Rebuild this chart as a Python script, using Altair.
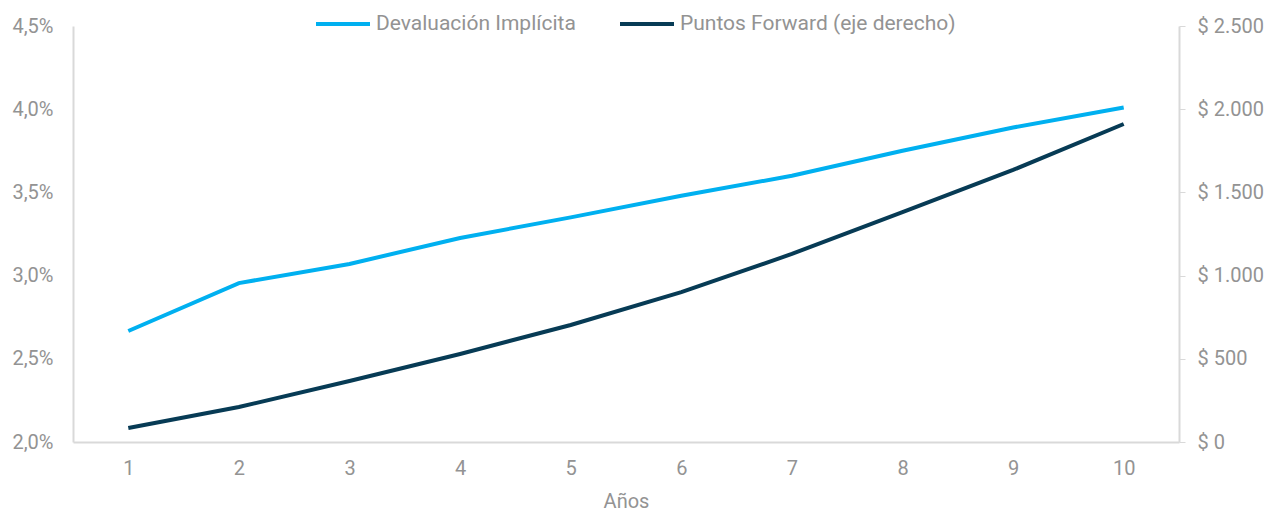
import altair as alt
import pandas as pd

years = [1, 2, 3, 4, 5, 6, 7, 8, 9, 10]
devaluacion = [2.667, 2.955, 3.07, 3.226, 3.35, 3.48, 3.60, 3.75, 3.89, 4.01]
puntos = [84, 210, 367, 529, 703, 901, 1130, 1382, 1635, 1911]

name_a = "Devaluación Implícita"
name_b = "Puntos Forward (eje derecho)"

df_a = pd.DataFrame({"year": years, "value": devaluacion, "serie": name_a})
df_b = pd.DataFrame({"year": years, "value": puntos, "serie": name_b})

FONT = "Roboto"
GRAY = "#939393"
AXIS = "#d9d9d9"
FS = 20

color = alt.Color(
    "serie:N",
    scale=alt.Scale(domain=[name_a, name_b], range=["#00B0F0", "#073B55"]),
    legend=alt.Legend(
        title=None, orient="none", direction="horizontal",
        legendX=241, legendY=-31,
        symbolType="stroke", symbolSize=2916, symbolStrokeWidth=4,
        labelFont=FONT, labelFontSize=21, labelColor=GRAY, labelLimit=500,
        labelOffset=4, columnPadding=36, symbolOffset=0,
    ),
)

x = alt.X(
    "year:O", title="Años",
    scale=alt.Scale(paddingInner=0, paddingOuter=0.5),
    axis=alt.Axis(labelAngle=0, ticks=False, domainColor=AXIS, domainWidth=2,
                  labelFont=FONT, labelFontSize=FS, labelColor=GRAY, labelPadding=16,
                  titleFont=FONT, titleFontSize=FS, titleColor=GRAY, titleFontWeight="normal",
                  titlePadding=13),
)

left = alt.Chart(df_a).mark_line(strokeWidth=4).encode(
    x=x,
    y=alt.Y("value:Q", title=None,
            scale=alt.Scale(domain=[2.0, 4.5], nice=False, zero=False),
            axis=alt.Axis(values=[2.0, 2.5, 3.0, 3.5, 4.0, 4.5], grid=False, ticks=False,
                          domainColor=AXIS, domainWidth=2,
                          labelExpr='replace(format(datum.value, ".1f"), ".", ",") + "%"',
                          labelFont=FONT, labelFontSize=FS, labelColor=GRAY, labelPadding=20)),
    color=color,
)

right = alt.Chart(df_b).mark_line(strokeWidth=4).encode(
    x=x,
    y=alt.Y("value:Q", title=None,
            scale=alt.Scale(domain=[0, 2500], nice=False),
            axis=alt.Axis(orient="right", values=[0, 500, 1000, 1500, 2000, 2500], grid=False,
                          ticks=True, tickColor=AXIS, tickSize=6, tickWidth=1,
                          domainColor=AXIS, domainWidth=2,
                          labelExpr='"$ " + replace(format(datum.value, ","), ",", ".")',
                          labelFont=FONT, labelFontSize=FS, labelColor=GRAY, labelPadding=12)),
    color=color,
)

chart = alt.layer(left, right).resolve_scale(y="independent").properties(
    width=1106, height=416,
    autosize=alt.AutoSizeParams(type="none"),
    padding={"left": 73, "top": 26, "right": 93, "bottom": 70},
).configure(background="white").configure_view(stroke=None)

chart.save("out.html", embed_options={"renderer": "svg", "actions": False})
